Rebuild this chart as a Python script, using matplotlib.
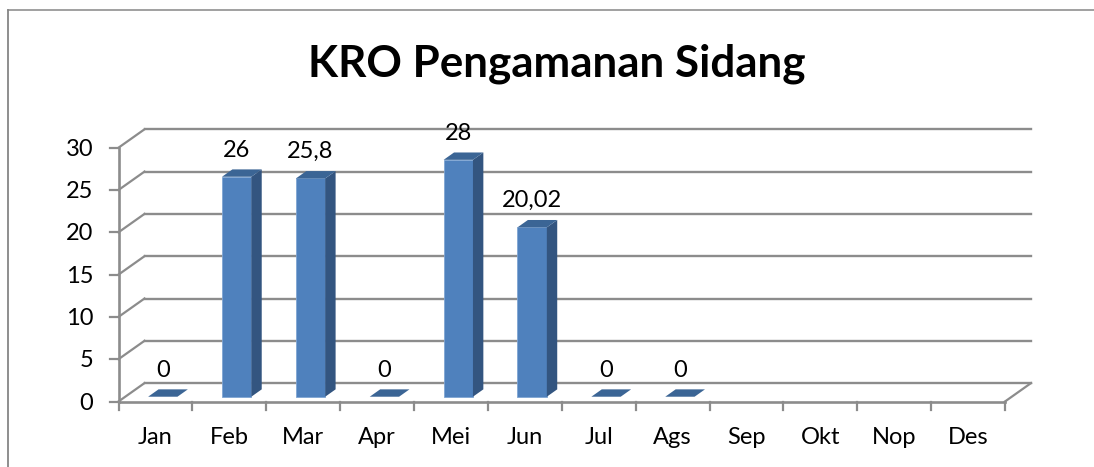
import numpy as np
import matplotlib
matplotlib.use('Agg')
import matplotlib.pyplot as plt
from matplotlib.lines import Line2D
from matplotlib.patches import Polygon

bulan = ['Jan', 'Feb', 'Mar', 'Apr', 'Mei', 'Jun', 'Jul', 'Ags', 'Sep', 'Okt', 'Nop', 'Des']
nilai = [0, 26, 25.8, 0, 28, 20.02, 0, 0, None, None, None, None]
label_nilai = ['0', '26', '25,8', '0', '28', '20,02', '0', '0', '', '', '', '']
y_ticks = [0, 5, 10, 15, 20, 25, 30]

W, H = 1094, 467
ABU = '#8c8c8c'
BIRU = '#4f81bd'
BIRU_SAMPING = '#335580'
BIRU_ATAS = '#3b6595'

plt.rcParams['font.family'] = ['Lato', 'DejaVu Sans']

fig = plt.figure(figsize=(W / 100, H / 100), dpi=100)
# posisi sumbu dalam piksel gambar
x0, x1, y0, y1 = 118.5, 1005, 401.5, 147.7
ax = fig.add_axes([x0 / W, 1 - y0 / H, (x1 - x0) / W, (y0 - y1) / H])
ax.set_xlim(0, 12)
ax.set_ylim(0, 30)
ax.axis('off')

# kedalaman efek 3D, dalam satuan data
dx = 26 / ((x1 - x0) / 12)
dy = 18.4 / ((y0 - y1) / 30)

# dinding belakang, dinding kiri, lantai
for t in y_ticks:
    ax.plot([dx, 12 + dx], [t + dy, t + dy], color=ABU, lw=1.7, clip_on=False, zorder=1)
    ax.plot([0, dx], [t, t + dy], color=ABU, lw=1.6, clip_on=False, zorder=1)
    ax.plot([-0.11, 0], [t, t], color=ABU, lw=1.6, clip_on=False, zorder=1)
    ax.text(-0.34, t - 0.2, str(t), ha='right', va='center', fontsize=17, color='black')
ax.plot([0, 0], [0, 30], color=ABU, lw=1.9, clip_on=False, zorder=1)
ax.plot([0, 12], [0, 0], color=ABU, lw=1.9, clip_on=False, zorder=1)
ax.plot([12, 12 + dx], [0, dy], color=ABU, lw=1.6, clip_on=False, zorder=1)
for i in range(13):
    ax.plot([i, i], [0, -1.0], color=ABU, lw=1.6, clip_on=False, zorder=1)
for i, b in enumerate(bulan):
    ax.text(i + 0.5, -4.25, b, ha='center', va='center', fontsize=17, color='black')

# batang: muka, sisi dan atas
f1, f2 = 0.26, 0.66
lebar = 0.397
for i, v in enumerate(nilai):
    if v is None:
        continue
    xa = i + 0.5 - lebar / 2 + f1 * dx + 0.008
    xb = xa + lebar
    yb = f1 * dy
    d_x = (f2 - f1) * dx
    d_y = (f2 - f1) * dy
    if v > 0:
        ax.bar(xa + lebar / 2, v, lebar, bottom=yb, color=BIRU, edgecolor='#7fa5d3', lw=0.6, zorder=3)
        ax.add_patch(Polygon([(xb, yb), (xb + d_x, yb + d_y), (xb + d_x, v + yb + d_y), (xb, v + yb)],
                             facecolor=BIRU_SAMPING, zorder=3))
    ax.add_patch(Polygon([(xa, v + yb), (xb, v + yb), (xb + d_x, v + yb + d_y), (xa + d_x, v + yb + d_y)],
                         facecolor=BIRU_ATAS, zorder=3))
    ax.text(xa + lebar / 2, v + yb + 3.15, label_nilai[i], ha='center', va='center', fontsize=17,
            color='black', zorder=4)

fig.text(557 / W, 1 - 64 / H, 'KRO Pengamanan Sidang', ha='center', va='center',
         fontsize=31.7, fontweight='bold', color='black')

# bingkai, hanya kiri dan atas yang terlihat
fig.add_artist(Line2D([8.3 / W, 8.3 / W], [0, 1 - 9.5 / H], color='#868686', lw=1.3))
fig.add_artist(Line2D([8.3 / W, 1], [1 - 9.5 / H, 1 - 9.5 / H], color='#868686', lw=1.1))

fig.savefig('out.png', dpi=100)
